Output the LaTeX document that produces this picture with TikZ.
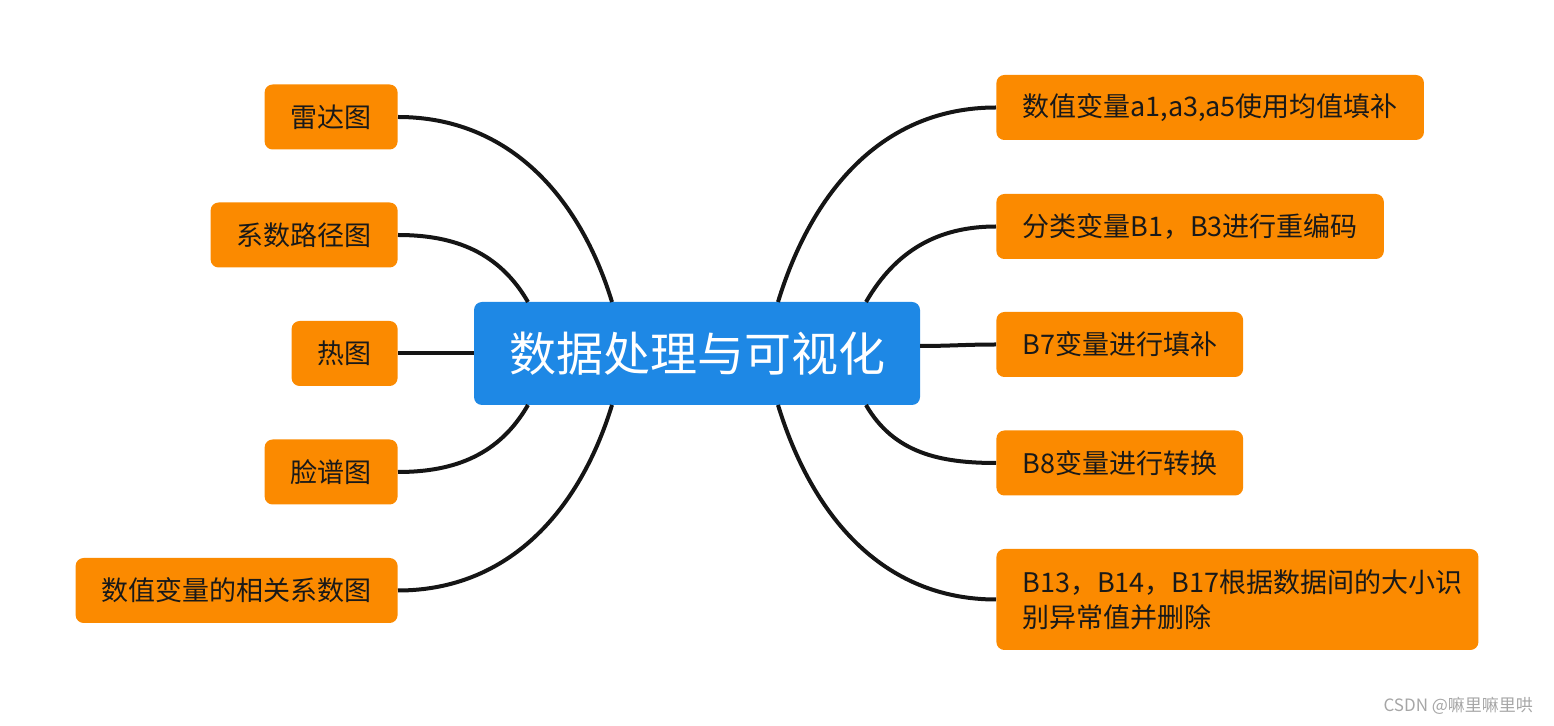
\documentclass[tikz,border=0pt]{standalone}
\usepackage{fontspec}
\setmainfont{Noto Sans CJK SC}
\usetikzlibrary{positioning}
\definecolor{leafOrange}{HTML}{FB8A00}
\definecolor{rootBlue}{HTML}{1E88E5}
\definecolor{linkBlack}{HTML}{151515}
\tikzset{leaf/.style={rectangle, rounded corners=4pt, fill=leafOrange,
  inner xsep=13pt, minimum height=32.5pt, font=\fontsize{13.5}{17.5}\selectfont,
  text=black!90}}
\tikzset{root/.style={rectangle, rounded corners=4pt, fill=rootBlue,
  minimum width=223pt, minimum height=51.5pt, text=white,
  font=\fontsize{23.5}{28}\selectfont}}
\tikzset{link/.style={draw, linkBlack, line width=2pt}}
\begin{document}
\begin{tikzpicture}[x=0.5pt,y=-0.5pt]
        \useasboundingbox (0,0) rectangle (1554,726);
        %% root
        \node (root) at (697,353.5) [root] {数据处理与可视化};
        %% left branches
        \node (radar) [leaf, anchor=east] at (398,117) {雷达图};
        \node (path) [leaf, anchor=east] at (398,235) {系数路径图};
        \node (heat) [leaf, anchor=east] at (398,353.5) {热图};
        \node (face) [leaf, anchor=east] at (398,472) {脸谱图};
        \node (corr) [leaf, anchor=east] at (398,590.5) {数值变量的相关系数图};
        %% right branches
        \node (mean) [leaf, anchor=west] at (996,107.5) {数值变量a1,a3,a5使用均值填补};
        \node (code) [leaf, anchor=west] at (996,226.5) {分类变量B1，B3进行重编码};
        \node (fill) [leaf, anchor=west] at (996,344.5) {B7变量进行填补};
        \node (conv) [leaf, anchor=west] at (996,463) {B8变量进行转换};
        \node (outl) [leaf, anchor=west, text width=215pt, align=left,
          minimum height=50.5pt] at (996,599.5)
          {B13，B14，B17根据数据间的大小识\\别异常值并删除};
        %% ends on the root
        \coordinate (lt) at (612,302);
        \coordinate (lm) at (528,302);
        \coordinate (lb) at (528,405);
        \coordinate (lbb) at (612,405);
        \coordinate (rt) at (778,302);
        \coordinate (rm) at (866,302);
        \coordinate (rb) at (866,405);
        \coordinate (rbb) at (778,405);
        \coordinate (rc) at (920,346);
        \draw [link] (radar.east) to [out=0, in=107] (lt);
        \draw [link] (path.east) to [out=0, in=120] (lm);
        \draw [link] (heat.east) -- (root.west);
        \draw [link] (face.east) to [out=0, in=-120] (lb);
        \draw [link] (corr.east) to [out=0, in=-107] (lbb);
        \draw [link] (mean.west) to [out=180, in=73] (rt);
        \draw [link] (code.west) to [out=180, in=60] (rm);
        \draw [link] (fill.west) to [out=180, in=0] (rc);
        \draw [link] (conv.west) to [out=180, in=-60] (rb);
        \draw [link] (outl.west) to [out=180, in=-73] (rbb);
        \node (mark) [anchor=east, text=gray!70, font=\fontsize{8.5}{10}\selectfont]
          at (1540,706) {CSDN @嘛里嘛里哄};
    \end{tikzpicture}
\end{document}
